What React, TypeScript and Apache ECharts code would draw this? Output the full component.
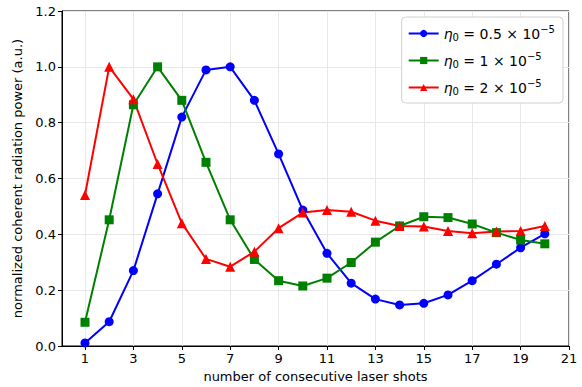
import React, { useEffect, useRef } from "react";
import * as echarts from "echarts";

const shots = [1, 2, 3, 4, 5, 6, 7, 8, 9, 10, 11, 12, 13, 14, 15, 16, 17, 18, 19, 20];
const blueVals = [0.011, 0.087, 0.27, 0.545, 0.82, 0.989, 1.0, 0.88, 0.688, 0.487, 0.332, 0.225, 0.168, 0.147, 0.153, 0.183, 0.234, 0.293, 0.352, 0.402];
const greenVals = [0.085, 0.452, 0.864, 1.0, 0.88, 0.658, 0.452, 0.31, 0.234, 0.215, 0.243, 0.299, 0.372, 0.43, 0.463, 0.46, 0.437, 0.406, 0.38, 0.366];
const redVals = [0.541, 1.0, 0.884, 0.652, 0.44, 0.312, 0.284, 0.338, 0.422, 0.478, 0.487, 0.481, 0.449, 0.43, 0.428, 0.412, 0.404, 0.41, 0.412, 0.43];
const xTicks = [1, 3, 5, 7, 9, 11, 13, 15, 17, 19, 21];
const coefs = ["0.5", "1", "2"];
const seriesNames = coefs.map((c) => `η0 = ${c} × 10−5`);

const FONT = "DejaVu Sans";

export default function App() {
  const ref = useRef<HTMLDivElement>(null);
  useEffect(() => {
    if (!ref.current) return;
    const chart = echarts.init(ref.current, undefined, { renderer: "svg" });
    const mk = (name: string, vals: number[], color: string, symbol: string, size: number) => ({
      name,
      type: "line",
      data: shots.map((s, i) => [s, vals[i]]),
      symbol,
      symbolSize: size,
      showAllSymbol: true,
      lineStyle: { color, width: 2 },
      itemStyle: { color, borderWidth: 0 },
      emphasis: { disabled: true },
    });
    chart.setOption({
      animation: false,
      grid: {
        left: 62,
        right: 13,
        top: 11,
        bottom: 41,
        outerBoundsMode: "none",
        containLabel: false,
        show: true,
        borderColor: "#000",
        borderWidth: 1,
        backgroundColor: "transparent",
      },
      legend: {
        orient: "vertical",
        right: 19,
        top: 17,
        backgroundColor: "#fff",
        borderColor: "#d0d0d0",
        borderWidth: 1,
        borderRadius: 4,
        padding: [7, 8, 7, 6],
        itemGap: 9,
        itemWidth: 30,
        itemHeight: 9,
        data: seriesNames,
        formatter: (name: string) => {
          const idx = seriesNames.indexOf(name);
          return `{eta|η}{sub|0}{t| = ${coefs[idx]} × 10}{sup|−5}`;
        },
        textStyle: {
          fontFamily: FONT,
          fontSize: 13,
          color: "#000",
          rich: {
            eta: { fontFamily: FONT, fontSize: 14, fontStyle: "italic", color: "#000" },
            sub: { fontFamily: FONT, fontSize: 10, color: "#000", padding: [7, 0, 0, 0] },
            t: { fontFamily: FONT, fontSize: 14, color: "#000" },
            sup: { fontFamily: FONT, fontSize: 10, color: "#000", padding: [0, 0, 9, 0] },
          },
        },
      },
      xAxis: {
        type: "value",
        min: 0.05,
        max: 21,
        name: "number of consecutive laser shots",
        nameLocation: "middle",
        nameGap: 24,
        nameTextStyle: { fontFamily: FONT, fontSize: 13, color: "#000" },
        axisLine: { show: true, lineStyle: { color: "#000", width: 1 } },
        axisTick: { show: true, length: 4, customValues: xTicks, lineStyle: { color: "#000" } },
        axisLabel: {
          customValues: xTicks,
          fontFamily: FONT,
          fontSize: 13,
          color: "#000",
          margin: 6,
        },
        splitLine: { show: true, lineStyle: { color: "#e8e8e8", width: 1 } },
      },
      yAxis: {
        type: "value",
        min: 0,
        max: 1.2,
        interval: 0.2,
        name: "normalized coherent radiation power (a.u.)",
        nameLocation: "middle",
        nameGap: 36,
        nameTextStyle: { fontFamily: FONT, fontSize: 13, color: "#000" },
        axisLine: { show: true, lineStyle: { color: "#000", width: 1 } },
        axisTick: { show: true, length: 4, lineStyle: { color: "#000" } },
        axisLabel: {
          fontFamily: FONT,
          fontSize: 13,
          color: "#000",
          margin: 6,
          formatter: (v: number) => v.toFixed(1),
        },
        splitLine: { show: true, lineStyle: { color: "#e8e8e8", width: 1 } },
      },
      series: [
        mk(seriesNames[0], blueVals, "#0000ff", "circle", 9),
        mk(seriesNames[1], greenVals, "#008000", "rect", 9),
        mk(seriesNames[2], redVals, "#ff0000", "triangle", 10),
      ],
    });
    return () => chart.dispose();
  }, []);
  return <div ref={ref} style={{ width: 582, height: 387, position: "absolute", left: 0, top: 0 }} />;
}
